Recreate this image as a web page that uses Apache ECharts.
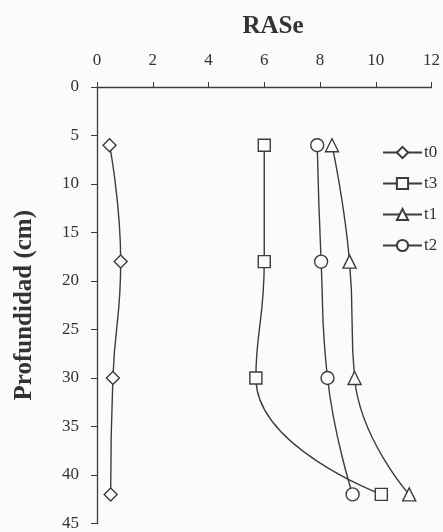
<!DOCTYPE html>
<html>
<head>
<meta charset="utf-8">
<script src="https://cdn.jsdelivr.net/npm/echarts@6/dist/echarts.min.js"></script>
<style>
  html, body { margin: 0; padding: 0; background: #fbfbf9; }
  #chart { width: 443px; height: 532px; }
</style>
</head>
<body>
<div id="chart"></div>
<script>
// Depth of each sample (cm) and RASe values per sampling time
const depths = [6, 18, 30, 42];
const t0 = [0.45, 0.85, 0.57, 0.49];
const t3 = [6.0, 6.0, 5.7, 10.2];
const t1 = [8.43, 9.06, 9.24, 11.2];
const t2 = [7.9, 8.04, 8.27, 9.17];

const xTicks = [0, 2, 4, 6, 8, 10, 12];
const yTicks = [0, 5, 10, 15, 20, 25, 30, 35, 40, 45];

const ink = '#3c3c3c';
const font = 'Liberation Serif';

function pairs(vals) {
  return vals.map((v, i) => [v, depths[i]]);
}

function makeSeries(name, vals, symbol, size) {
  return {
    name: name,
    type: 'line',
    data: pairs(vals),
    smooth: 0.5,
    symbol: symbol,
    symbolSize: size,
    showAllSymbol: true,
    lineStyle: { color: ink, width: 1.4 },
    itemStyle: { color: '#fbfbf9', borderColor: ink, borderWidth: 1.4 },
    emphasis: { disabled: true }
  };
}

const chart = echarts.init(document.getElementById('chart'));
chart.setOption({
  animation: false,
  backgroundColor: '#fbfbf9',
  textStyle: { fontFamily: font },
  title: {
    text: 'RASe',
    left: 268,
    top: 9,
    textAlign: 'center',
    textStyle: { fontFamily: font, fontWeight: 'bold', fontSize: 25, color: '#333' }
  },
  legend: {
    orient: 'vertical',
    left: 377,
    top: 139,
    itemWidth: 39,
    itemHeight: 14,
    itemGap: 14,
    textStyle: { fontFamily: font, fontSize: 17, color: '#333', padding: [0, 0, 0, -3] },
    data: ['t0', 't3', 't1', 't2']
  },
  grid: { left: 97, right: 11, top: 87, bottom: 6, containLabel: false },
  xAxis: {
    type: 'value',
    position: 'top',
    min: xTicks[0],
    max: xTicks[xTicks.length - 1],
    interval: xTicks[1] - xTicks[0],
    axisLine: { show: true, onZero: false, lineStyle: { color: ink, width: 1.3 } },
    axisTick: { show: true, inside: false, length: 5, lineStyle: { color: ink } },
    axisLabel: { fontFamily: font, fontSize: 17, color: '#333', margin: 18 },
    splitLine: { show: false }
  },
  yAxis: {
    type: 'value',
    inverse: true,
    min: yTicks[0],
    max: yTicks[yTicks.length - 1],
    interval: yTicks[1] - yTicks[0],
    name: 'Profundidad (cm)',
    nameLocation: 'middle',
    nameGap: 60,
    nameTextStyle: { fontFamily: font, fontWeight: 'bold', fontSize: 25, color: '#333' },
    axisLine: { show: true, onZero: false, lineStyle: { color: ink, width: 1.3 } },
    axisTick: { show: true, inside: false, length: 6, lineStyle: { color: ink } },
    axisLabel: { fontFamily: font, fontSize: 17, color: '#333', margin: 18 },
    splitLine: { show: false }
  },
  series: [
    makeSeries('t0', t0, 'diamond', 13),
    makeSeries('t3', t3, 'rect', 12),
    makeSeries('t1', t1, 'triangle', 13),
    makeSeries('t2', t2, 'circle', 13)
  ]
});
</script>
</body>
</html>
